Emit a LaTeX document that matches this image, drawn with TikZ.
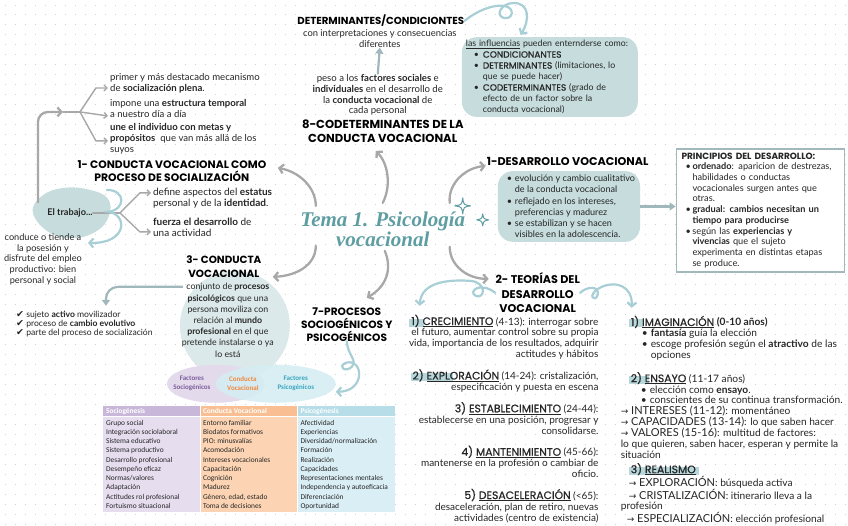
\documentclass[tikz,border=0pt]{standalone}
\usepackage{fontspec}
\setmainfont{Lato}
\newfontfamily\hd{Poppins}
\newfontfamily\hdm{Poppins}[FakeBold=0.8]
\newfontfamily\calf{Carlito}
\newfontfamily\ttlf{Liberation Serif}
\newfontfamily\djv{DejaVu Sans}
\usetikzlibrary{arrows.meta}
\definecolor{dotc}{HTML}{D2D2D2}
\definecolor{tealfill}{HTML}{C6DCDD}
\definecolor{tealcircle}{HTML}{DCE9EA}
\definecolor{garr}{HTML}{A8A8A8}
\definecolor{tgarr}{HTML}{A0B8BB}
\definecolor{curl}{HTML}{A8CFD5}
\definecolor{ttl}{HTML}{5E9EA2}
\definecolor{ink}{HTML}{262626}
\definecolor{hl}{HTML}{B8D7DB}
\definecolor{vpur}{HTML}{E3DAEC}
\definecolor{vteal}{HTML}{D5EDF3}
\definecolor{tpur}{HTML}{7E5E9C}
\definecolor{tora}{HTML}{EF8A3D}
\definecolor{ttea}{HTML}{3AA6C0}
\definecolor{hpur}{HTML}{C9B7DA}
\definecolor{hora}{HTML}{F9BF92}
\definecolor{htea}{HTML}{B6DDE8}
\definecolor{bpur}{HTML}{E6DDEF}
\definecolor{bora}{HTML}{FCD4B3}
\definecolor{btea}{HTML}{DAEEF5}
\definecolor{framec}{HTML}{A3B8BB}
\newcommand\bu[2]{\makebox[#2][l]{\hspace*{#1}\textbullet}}
\newcommand\ind[1]{\hspace*{#1}}
\newcommand\capm[1]{{\hdm\fontsize{9}{11}\selectfont #1}}
\newcommand\sh{\hdm\fontsize{10.8}{11}\selectfont}
\newcommand\lc{\fontsize{11}{11}\selectfont}
\newcommand\arr{{\djv\fontsize{9}{11}\selectfont →}}
\newcommand\hlt[1]{\hspace*{-2pt}\makebox[0pt][l]{\color{hl}\rule[-1.5pt]{#1}{8pt}}\hspace*{2pt}}
\tikzset{
 txt/.style={inner sep=0pt, font=\fontsize{10}{11}\selectfont, align=center, text=ink},
 txtl/.style={txt, align=left},
 head/.style={inner sep=0pt, font=\hd\bfseries\fontsize{11}{14}\selectfont, align=center, text=black},
 garrow/.style={draw=garr, line width=2.3pt, line cap=round, -{Straight Barb[length=4pt,width=9pt]}},
 gthin/.style={draw=garr, line width=1.4pt, line cap=round},
 gthinar/.style={gthin, -{Straight Barb[length=3pt,width=6pt]}},
 tline/.style={draw=tgarr, line width=2.2pt},
 tarrow/.style={tline, -{Triangle[length=6pt,width=8pt]}},
 curlar/.style={draw=curl, line width=2.2pt, line cap=round, -{Straight Barb[length=4pt,width=9pt]}},
 bubble/.style={fill=tealfill, rounded corners=15pt, inner xsep=4pt, inner ysep=3pt, align=left, font=\fontsize{8.8}{11}\selectfont, text=ink},
 vtxt/.style={inner sep=0pt, align=center, font=\calf\bfseries\fontsize{7}{9}\selectfont},
 tbtxt/.style={anchor=north west, inner sep=0pt, align=left, font=\calf\fontsize{7.4}{9.26}\selectfont, text=ink},
 thtxt/.style={anchor=west, inner sep=0pt, text=white, font=\calf\bfseries\fontsize{7.4}{9}\selectfont},
 spark/.style={draw=ttl, line width=1pt, line join=round},
}
\begin{document}
\begin{tikzpicture}[x=1pt,y=-1pt]
\fill[white] (0,0) rectangle (848,525);
\foreach \yy in {5,15,...,525} {\draw[dotc, line width=1pt, dash pattern=on 1pt off 9pt] (5,\yy) -- (848,\yy);}
\useasboundingbox (0,0) rectangle (848,525);

% ---------- background shapes
\fill[tealfill] plot[smooth cycle, tension=0.7] coordinates {(33,213) (42,196) (64,188) (90,190) (108,199) (109,216) (97,231) (75,238) (50,233)};
\fill[tealcircle] (235,326) circle (55);
\fill[vpur] (216,384) ellipse [x radius=49, y radius=19];
\fill[vteal, opacity=0.88] (276,384) ellipse [x radius=60, y radius=19];

% ---------- top centre
\node[head, font=\hd\bfseries\fontsize{10.2}{12}\selectfont] (det) at (381,21) {DETERMINANTES/CONDICIONTES};
\node[txt, font=\fontsize{9.4}{11}\selectfont] (detsub) at (380,38.5) {con interpretaciones y consecuencias\\diferentes};
\node[txt, font=\fontsize{9.6}{10.7}\selectfont] (peso) at (378,95) {peso a los \textbf{factores sociales} e\\\textbf{individuales} en el desarrollo de\\la \textbf{conducta vocacional} de\\cada personal};
\node[head, font=\hd\bfseries\fontsize{11.6}{14}\selectfont] (h8) at (383,131) {8-CODETERMINANTES DE LA\\CONDUCTA VOCACIONAL};
\draw[tarrow] (peso.north) -- (detsub.south);

\node[bubble, anchor=north west, text width=168pt] (infl) at (462,37) {\underline{las influencias} pueden enternderse como:\\
\bu{8pt}{17pt}\capm{CONDICIONANTES}\\
\bu{8pt}{17pt}\capm{DETERMINANTES} (limitaciones, lo\\
\ind{17pt}que se puede hacer)\\
\bu{8pt}{17pt}\capm{CODETERMINANTES} (grado de\\
\ind{17pt}efecto de un factor sobre la\\
\ind{17pt}conducta vocacional)};
\coordinate (infltop) at (521,35);
\draw[curlar] (det.east) .. controls (478,10) and (495,4) .. (505,6) .. controls (516,8) and (513,20) .. (504,18) .. controls (495,15) and (502,3) .. (514,3) .. controls (530,3) and (530,20) .. (infltop);

% ---------- top left
\node[txtl, anchor=west, font=\fontsize{9.6}{11}\selectfont] (s1) at (110,83.5) {primer y más destacado mecanismo\\de \textbf{socialización plena}.};
\node[txtl, anchor=west, font=\fontsize{9.6}{11}\selectfont] (s2) at (110,108.5) {impone una \textbf{estructura temporal}\\a nuestro día a día};
\node[txtl, anchor=west, font=\fontsize{9.6}{11}\selectfont] (s3) at (110,139) {\textbf{une el individuo con metas y}\\\textbf{propósitos}\ \ que van más allá de los\\suyos};
\node[head, font=\hd\bfseries\fontsize{10.8}{13}\selectfont] (h1) at (172,171) {1- CONDUCTA VOCACIONAL COMO\\PROCESO DE SOCIALIZACIÓN};

\node[inner sep=0pt, font=\bfseries\fontsize{9.2}{10}\selectfont, text=ink] (trab) at (70,213) {El trabajo...};
\coordinate (v0) at (38,203);
\coordinate (br0) at (63,112);
\coordinate (br1) at (80,112);
\coordinate (b1) at (108,88);
\coordinate (b2) at (108,116);
\coordinate (b3) at (108,141);
\draw[draw=garr, line width=2.3pt, rounded corners=10pt, -{Straight Barb[length=4pt,width=9pt]}] (v0) -- (38,112) -- (br0);
\draw[gthin] (br0) -- (br1);
\draw[gthinar] (br1) -- (96,88) -- (b1);
\draw[gthinar] (br1) -- (b2);
\draw[gthinar] (br1) -- (96,141) -- (b3);

\coordinate (tb0) at (120,213);
\coordinate (tb1) at (151,193);
\coordinate (tb2) at (151,232);
\draw[gthin] (trab.east) -- (tb0);
\draw[gthinar] (tb0) -- (140,193) -- (tb1);
\draw[gthinar] (tb0) -- (140,232) -- (tb2);
\node[txtl, anchor=west] (d1) at (153,198.5) {define aspectos del \textbf{estatus}\\personal y de la \textbf{identidad}.};
\node[txtl, anchor=west] (d2) at (153,227) {\textbf{fuerza el desarrollo} de\\una actividad};

\node[txt, font=\fontsize{9.2}{10.6}\selectfont] (cond) at (43,259.5) {conduce o tiende a\\la posesión y\\disfrute del empleo\\productivo: bien\\personal y social};
\coordinate (curlend) at (88,243);
\draw[curlar] (107,190) .. controls (126,190) and (126,210) .. (108,212) .. controls (128,214) and (128,244) .. (curlend);

% ---------- 3
\node[head, font=\hd\bfseries\fontsize{10.4}{14}\selectfont] (h3) at (224,266.5) {3- CONDUCTA\\VOCACIONAL};
\node[txt, font=\fontsize{8.8}{11.2}\selectfont] (c3) at (228,320.5) {conjunto de \textbf{procesos}\\\textbf{psicológicos} que una\\persona moviliza con\\relación al \textbf{mundo}\\\textbf{profesional} en el que\\pretende instalarse o ya\\lo está};
\coordinate (c3a) at (183,287);
\coordinate (ck) at (106,306);
\draw[tline, rounded corners=12pt, -{Triangle[length=6pt,width=8pt]}] (c3a) -- (106,287) -- (ck);
\node[txtl, anchor=west, font=\fontsize{8.6}{9.2}\selectfont] (chk) at (16,324) {{\djv\fontsize{9.5}{9.2}\selectfont ✔}\ sujeto \textbf{activo} movilizador\\{\djv\fontsize{9.5}{9.2}\selectfont ✔}\ proceso de \textbf{cambio evolutivo}\\{\djv\fontsize{9.5}{9.2}\selectfont ✔}\ parte del proceso de socialización};

% ---------- 7
\node[head, font=\hd\bfseries\fontsize{10.6}{13}\selectfont] (h7) at (347,324.5) {7-PROCESOS\\SOCIOGÉNICOS Y\\PSICOGÉNICOS};
\coordinate (vend) at (336,392);
\draw[curlar] (h7.south) .. controls (348,356) and (358,360) .. (352,367) .. controls (346,373) and (337,367) .. (346,363) .. controls (364,358) and (366,392) .. (vend);

\node[vtxt, text=tpur] (vs) at (192,384) {Factores\\Sociogénicos};
\node[vtxt, text=tora] (vc) at (243,384) {Conducta\\Vocacional};
\node[vtxt, text=ttea] (vp) at (296,384) {Factores\\Psicogénicos};

% ---------- table
\fill[hpur] (103,406) rectangle (200.3,417);
\fill[hora] (200.3,406) rectangle (297.6,417);
\fill[htea] (297.6,406) rectangle (395,417);
\fill[bpur] (103,417) rectangle (200.3,512);
\fill[bora] (200.3,417) rectangle (297.6,512);
\fill[btea] (297.6,417) rectangle (395,512);
\draw[white, line width=0.8pt] (103,417) -- (395,417) (200.3,406) -- (200.3,512) (297.6,406) -- (297.6,512);
\node[thtxt] (th1) at (106,411.5) {Sociogénesis};
\node[thtxt] (th2) at (203,411.5) {Conducta Vocacional};
\node[thtxt] (th3) at (300.5,411.5) {Psicogénesis};
\node[tbtxt] (tc1) at (106,420) {Grupo social\\Integración sociolaboral\\Sistema educativo\\Sistema productivo\\Desarrollo profesional\\Desempeño eficaz\\Normas/valores\\Adaptación\\Actitudes rol profesional\\Fortuismo situacional};
\node[tbtxt] (tc2) at (203,420) {Entorno familiar\\Biodatos formativos\\PIO: minusvalías\\Acomodación\\Intereses vocacionales\\Capacitación\\Cognición\\Madurez\\Género, edad, estado\\Toma de decisiones};
\node[tbtxt] (tc3) at (300.5,420) {Afectividad\\Experiencias\\Diversidad/normalización\\Formación\\Realización\\Capacidades\\Representaciones mentales\\Independencia y autoeficacia\\Diferenciación\\Oportunidad};

% ---------- centre title
\node[inner sep=0pt, align=center, text=ttl, font=\ttlf\bfseries\itshape\fontsize{21}{15}\selectfont] (title) at (383,229) {Tema 1. Psicología\\vocacional};
\draw[spark] (463,198) .. controls (464,205) .. (471,206) .. controls (464,207) .. (463,214) .. controls (462,207) .. (455,206) .. controls (462,205) .. cycle;
\draw[spark] (483,214) .. controls (484,219) .. (489,220) .. controls (484,221) .. (483,226) .. controls (482,221) .. (477,220) .. controls (482,219) .. cycle;

\coordinate (a1s) at (316,206); \coordinate (a1e) at (278,168);
\coordinate (a8s) at (383,203); \coordinate (a8e) at (376,151);
\coordinate (a3s) at (316,246); \coordinate (a3e) at (273,277);
\coordinate (a7s) at (385,251); \coordinate (a7e) at (367,298);
\coordinate (ads) at (450,203); \coordinate (ade) at (486,166);
\coordinate (ats) at (450,247); \coordinate (ate) at (489,279);
\draw[garrow] (a1s) .. controls (316,188) and (300,172) .. (a1e);
\draw[garrow] (a8s) .. controls (392,185) and (388,163) .. (a8e);
\draw[garrow] (a3s) .. controls (316,265) and (297,276) .. (a3e);
\draw[garrow] (a7s) .. controls (393,270) and (386,287) .. (a7e);
\draw[garrow] (ads) .. controls (448,184) and (465,168) .. (ade);
\draw[garrow] (ats) .. controls (450,266) and (468,279) .. (ate);

% ---------- 1 desarrollo
\node[head, font=\hd\bfseries\fontsize{11.2}{14}\selectfont] (hd1) at (568,162) {1-DESARROLLO VOCACIONAL};
\node[bubble, anchor=north west, inner xsep=5pt, inner ysep=4pt, font=\fontsize{9.1}{11.2}\selectfont] (dbub) at (498,171) {\bu{4pt}{12pt}evolución y cambio cualitativo\\\ind{12pt}de la conducta vocacional\\\bu{4pt}{12pt}reflejado en los intereses,\\\ind{12pt}preferencias y madurez\\\bu{4pt}{12pt}se estabilizan y se hacen\\\ind{12pt}visibles en la adolescencia.};
\node[draw=framec, line width=1.8pt, fill=white, anchor=north west, text width=158pt, inner xsep=5pt, inner ysep=4pt, align=left, font=\fontsize{9.2}{10.7}\selectfont, text=ink] (prin) at (676,148) {{\hd\bfseries\fontsize{9}{10.7}\selectfont PRINCIPIOS DEL DESARROLLO:}\\
\bu{4pt}{11pt}\textbf{ordenado}: aparicion de destrezas,\\
\ind{11pt}habilidades o conductas\\
\ind{11pt}vocacionales surgen antes que\\
\ind{11pt}otras.\\
\bu{4pt}{11pt}\textbf{gradual: cambios necesitan un}\\
\ind{11pt}\textbf{tiempo para producirse}\\
\bu{4pt}{11pt}según las \textbf{experiencias y}\\
\ind{11pt}\textbf{vivencias} que el sujeto\\
\ind{11pt}experimenta en distintas etapas\\
\ind{11pt}se produce.};
\draw[tarrow] (dbub.east) -- (dbub.east -| prin.west);

% ---------- 2 teorias
\node[head, font=\hd\bfseries\fontsize{11.2}{14.5}\selectfont] (h2) at (538,293) {2- TEORÍAS DEL\\DESARROLLO\\VOCACIONAL};
\coordinate (tl) at (420,306);
\coordinate (tr) at (632,308);
\draw[curlar] (h2.west) .. controls (480,281) and (468,292) .. (476,296) .. controls (485,300) and (488,282) .. (470,281) .. controls (440,279) and (421,286) .. (tl);
\draw[curlar] (h2.east) .. controls (588,286) and (600,286) .. (598,295) .. controls (596,303) and (586,296) .. (600,288) .. controls (616,280) and (633,286) .. (tr);

\node[txt, align=right, anchor=east] (t1) at (599,337.5) {{\sh\hlt{15pt}1)~\underline{CRECIMIENTO}} (4-13): interrogar sobre\\el futuro, aumentar control sobre su propia\\vida, importancia de los resultados, adquirir\\actitudes y hábitos};
\node[txt, align=right, anchor=east] (t2) at (599,381) {{\sh\hlt{42pt}2)~\underline{EXPLORACIÓN}} (14-24): cristalización,\\especificación y puesta en escena};
\node[txt, align=right, anchor=east] (t3) at (599,418.5) {{\sh 3)~\underline{ESTABLECIMIENTO}} (24-44):\\establecerse en una posición, progresar y\\consolidarse.};
\node[txt, align=right, anchor=east] (t4) at (599,462) {{\sh 4)~\underline{MANTENIMIENTO}} (45-66):\\mantenerse en la profesión o cambiar de\\oficio.};
\node[txt, align=right, anchor=east] (t5) at (599,506) {{\sh 5)~\underline{DESACELERACIÓN}} (<65):\\desaceleración, plan de retiro, nuevas\\actividades (centro de existencia)};

\node[txtl, anchor=west, font=\fontsize{10.2}{11}\selectfont] (r1) at (631,338.5) {{\sh\hlt{14pt}1)~\underline{IMAGINACIÓN}} \textbf{(0-10 años)}\\\bu{11pt}{20pt}\textbf{fantasía} guía la elección\\\bu{11pt}{20pt}escoge profesión según el \textbf{atractivo} de las\\\ind{20pt}opciones};
\node[txtl, anchor=west, font=\fontsize{10.2}{10.9}\selectfont] (r2) at (621,415.5) {\ind{10pt}{\sh\hlt{20pt}2)~\underline{ENSAYO}} (11-17 años)\\\bu{20pt}{29pt}elección como \textbf{ensayo}.\\\bu{20pt}{29pt}conscientes de su continua transformación.\\{\lc\arr~INTERESES (11-12)}: momentáneo\\{\lc\arr~CAPACIDADES (13-14)}: lo que saben hacer\\{\lc\arr~VALORES (15-16)}: multitud de factores:\\lo que quieren, saben hacer, esperan y permite la\\situación};
\node[txtl, anchor=west, font=\fontsize{10.2}{10.3}\selectfont] (r3) at (621,494) {\ind{10pt}{\sh\hlt{70pt}3)~\underline{REALISMO}}\\\ind{8pt}{\lc\arr~EXPLORACIÓN}: búsqueda activa\\\ind{8pt}{\lc\arr~CRISTALIZACIÓN}: itinerario lleva a la\\profesión\\\ind{6pt}{\lc\arr~ESPECIALIZACIÓN}: elección profesional};
\end{tikzpicture}
\end{document}
